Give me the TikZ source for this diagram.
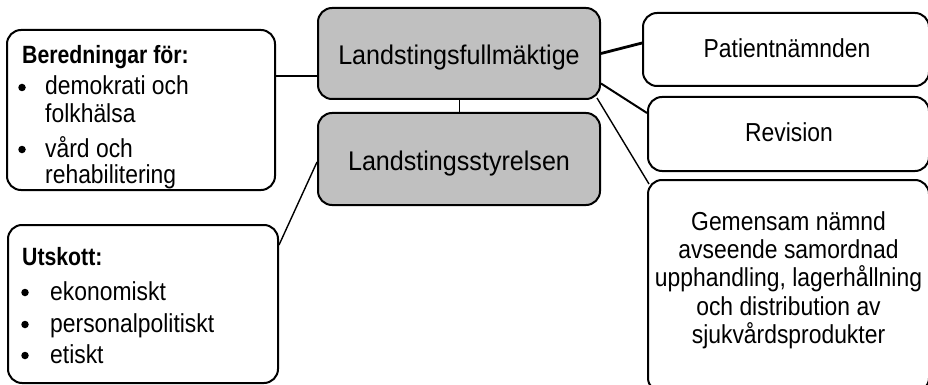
\documentclass[tikz,border=0pt]{standalone}
\usepackage{fontspec}
\setmainfont{Liberation Sans}
\newfontfamily\bodyfam{Liberation Sans}[FakeStretch=0.88]
\newfontfamily\titlefam{Liberation Sans}[FakeStretch=0.93]
\newfontfamily\headfam{Liberation Sans}[FakeStretch=0.85]
\usetikzlibrary{backgrounds}
\definecolor{boxgray}{HTML}{C0C0C0}
\newcommand{\bodyfont}{\bodyfam\fontsize{26}{28.3}\selectfont}
\newcommand{\titlefont}{\titlefam\fontsize{27}{30}\selectfont}
\newcommand{\headfont}{\headfam\bfseries\fontsize{25}{28}\selectfont}
\begin{document}
\begin{tikzpicture}[x=1pt,y=-1pt,
  box/.style={draw=black, line width=2pt, rounded corners=14pt, fill=white, inner sep=0pt, font=\bodyfont},
  gbox/.style={box, fill=boxgray},
  txt/.style={anchor=base west, inner sep=0pt, font=\bodyfont},
  head/.style={anchor=base west, inner sep=0pt, font=\headfont},
  ttl/.style={anchor=base, inner sep=0pt, font=\titlefont},
  bul/.style={circle, fill=black, minimum size=7.5pt, inner sep=0pt},
  conthick/.style={line width=2.8pt},
  conmed/.style={line width=2pt},
  conthin/.style={line width=1.4pt}]
\useasboundingbox (0,0) rectangle (928,385);
\clip (0,0) rectangle (928,385);

% boxes
\node[box, minimum width=268pt, minimum height=160pt] (ber) at (141,110) {};
\node[box, minimum width=270pt, minimum height=158pt] (uts) at (143,304) {};
\node[gbox, minimum width=282pt, minimum height=91pt] (full) at (459,53.5) {};
\node[gbox, minimum width=282pt, minimum height=92pt] (styr) at (459,159) {};
\node[box, minimum width=286pt, minimum height=73pt] (pat) at (786,49.5) {};
\node[box, minimum width=281pt, minimum height=74pt] (rev) at (788.5,134) {};
\node[box, minimum width=281pt, minimum height=212pt] (gem) at (788.5,286) {};

% titles and texts
\node[ttl] (fullt) at (459,64.5) {Landstingsfullmäktige};
\node[ttl] (styrt) at (459,170) {Landstingsstyrelsen};
\node[ttl, font=\bodyfont] (patt) at (787,57.5) {Patientnämnden};
\node[ttl, font=\bodyfont] (revt) at (789,142) {Revision};
\node[align=center, font=\bodyfont, inner sep=0pt] (gemt) at (788.5,280)
  {Gemensam nämnd\\avseende samordnad\\upphandling, lagerhållning\\och distribution av\\sjukvårdsprodukter};

% Beredningar
\node[head] (berh) at (22,64) {Beredningar för:};
\node[bul] (bb1) at (22,87.5) {};
\node[txt] (bt1) at (45,95) {demokrati och};
\node[txt] (bt2) at (45,122) {folkhälsa};
\node[bul] (bb2) at (22,149.5) {};
\node[txt] (bt3) at (45,157) {vård och};
\node[txt] (bt4) at (45,183) {rehabilitering};

% Utskott
\node[head] (utsh) at (22,265) {Utskott:};
\node[bul] (ub1) at (25,292.5) {};
\node[txt] (ut1) at (50,300) {ekonomiskt};
\node[bul] (ub2) at (25,324.5) {};
\node[txt] (ut2) at (50,332) {personalpolitiskt};
\node[bul] (ub3) at (25,355.5) {};
\node[txt] (ut3) at (50,363) {etiskt};

% connectors
\begin{pgfonlayer}{background}
\coordinate (bj) at ([yshift=34pt]ber.east);
\draw[conthick] (bj) -- (bj -| full.west);
\draw[conthin] ([yshift=59pt]uts.east) -- ([yshift=-3pt]styr.west);
\draw[line width=1pt] (full.south) -- (styr.north);
\draw[conthick] (full.east) -- ([yshift=6.5pt]pat.west);
\draw[conmed] ([yshift=-30pt]full.east) -- ([yshift=21pt]rev.west);
\draw[conthin] ([xshift=-4pt,yshift=2pt]full.south east) -- ([xshift=2pt,yshift=-5pt]gem.north west);
\end{pgfonlayer}
\end{tikzpicture}
\end{document}
